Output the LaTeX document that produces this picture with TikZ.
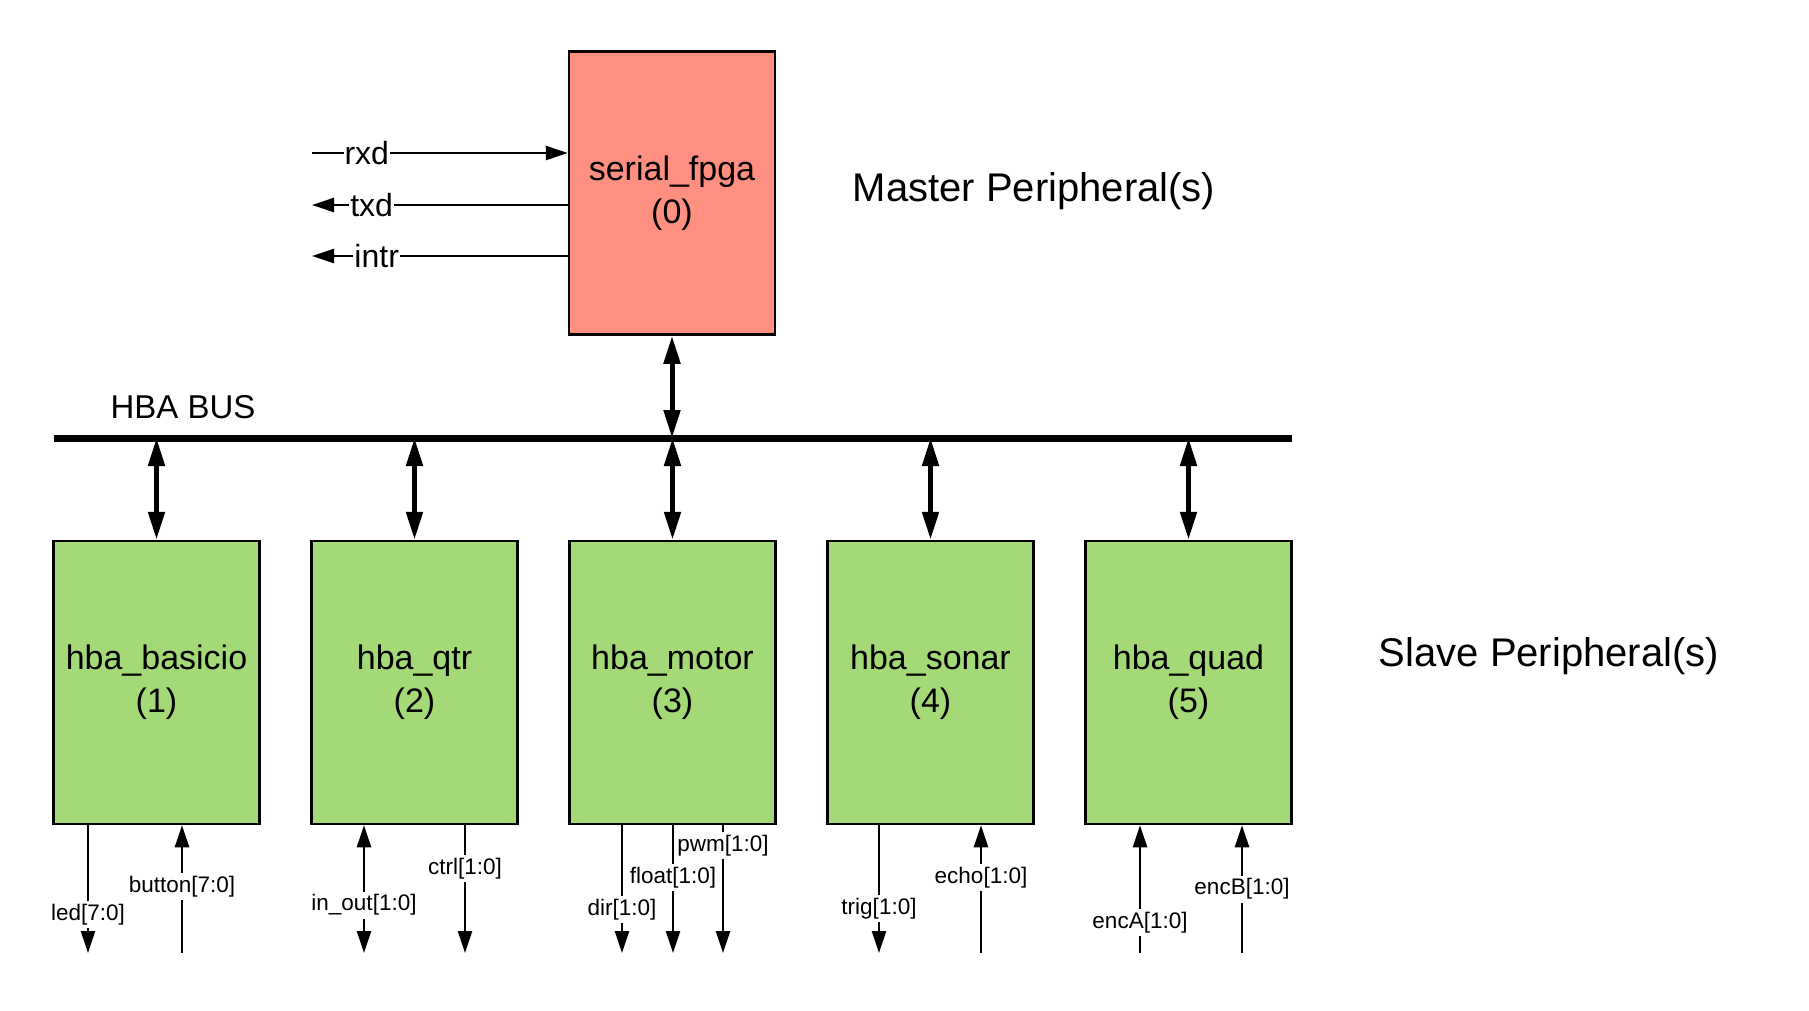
\documentclass[tikz,border=0pt]{standalone}
\usepackage{fontspec}
\setmainfont{Liberation Sans}
\usepackage{tikz}
\usetikzlibrary{arrows.meta}

\definecolor{masterred}{RGB}{255,143,128}
\definecolor{slavegreen}{RGB}{164,217,119}

\tikzset{
  periph/.style={draw, line width=2.5pt, minimum width=206pt, minimum height=283pt,
    align=center, font=\fontsize{34}{43}\selectfont},
  busarrow/.style={{Triangle[length=28pt,width=16pt]}-{Triangle[length=28pt,width=16pt]}, line width=5pt},
  sig/.style={line width=2.5pt},
  sigout/.style={sig, -{Triangle[length=22pt,width=14pt]}},
  sigin/.style={sig, {Triangle[length=22pt,width=14pt]}-},
  sigio/.style={sig, {Triangle[length=22pt,width=14pt]}-{Triangle[length=22pt,width=14pt]}},
  siglbl/.style={fill=white, inner xsep=1pt, inner ysep=3pt, font=\fontsize{22.5}{27}\selectfont},
  serlbl/.style={fill=white, inner xsep=1pt, inner ysep=3pt, font=\fontsize{32}{38}\selectfont},
  title/.style={font=\fontsize{40}{48}\selectfont},
}

\begin{document}
\begin{tikzpicture}[x=1pt, y=-1pt]
  \fill[white] (0,0) rectangle (1809,1010);

  \node[periph, fill=masterred] (fpga) at (672,193) {serial\_fpga\\(0)};
  \node[title] (master) at (1034,191) {Master Peripheral(s)};
  \node[title] (slave) at (1549,656) {Slave Peripheral(s)};

  \coordinate (rxdend) at (312,153);
  \coordinate (txdend) at (312,205);
  \coordinate (intrend) at (312,256);
  \draw[sigout] (rxdend) -- node[serlbl, pos=0.214] {rxd} (fpga.west |- rxdend);
  \draw[sigout] (fpga.west |- txdend) -- node[serlbl, pos=0.767] {txd} (txdend);
  \draw[sigout] (fpga.west |- intrend) -- node[serlbl, pos=0.747] {intr} (intrend);

  \coordinate (busL) at (54,438);
  \coordinate (busR) at (1292,438);
  \draw[line width=7pt] (busL) -- (busR);
  \node[font=\fontsize{33}{40}\selectfont] (hbabus) at (183,407) {HBA BUS};
  \draw[busarrow] (fpga.south) -- (fpga.south |- busL);

  \foreach \name/\lbl [count=\i from 0] in {basicio/hba\_basicio, qtr/hba\_qtr,
      motor/hba\_motor, sonar/hba\_sonar, quad/hba\_quad} {
    \pgfmathtruncatemacro{\num}{\i+1}
    \node[periph, fill=slavegreen] (\name) at ({156.5+258*\i},682.5) {\lbl\\(\num)};
    \draw[busarrow] (\name.north |- busL) -- (\name.north);
  }

  \coordinate (ledend) at (88,953);
  \coordinate (buttonend) at (182,953);
  \coordinate (inoutend) at (364,953);
  \coordinate (ctrlend) at (465,953);
  \coordinate (dirend) at (622,953);
  \coordinate (floatend) at (673,953);
  \coordinate (pwmend) at (723,953);
  \coordinate (trigend) at (879,953);
  \coordinate (echoend) at (981,953);
  \coordinate (encAend) at (1140,953);
  \coordinate (encBend) at (1242,953);

  \draw[sigout] (basicio.south -| ledend) -- node[siglbl, pos=0.70] {led[7:0]} (ledend);
  \draw[sigin] (basicio.south -| buttonend) -- node[siglbl, pos=0.48] {button[7:0]} (buttonend);
  \draw[sigio] (qtr.south -| inoutend) -- node[siglbl, pos=0.625] {in\_out[1:0]} (inoutend);
  \draw[sigout] (qtr.south -| ctrlend) -- node[siglbl, pos=0.34] {ctrl[1:0]} (ctrlend);
  \draw[sigout] (motor.south -| dirend) -- node[siglbl, pos=0.66] {dir[1:0]} (dirend);
  \draw[sigout] (motor.south -| floatend) -- node[siglbl, pos=0.41] {float[1:0]} (floatend);
  \draw[sigout] (motor.south -| pwmend) -- node[siglbl, pos=0.16] {pwm[1:0]} (pwmend);
  \draw[sigout] (sonar.south -| trigend) -- node[siglbl, pos=0.65] {trig[1:0]} (trigend);
  \draw[sigin] (sonar.south -| echoend) -- node[siglbl, pos=0.41] {echo[1:0]} (echoend);
  \draw[sigin] (quad.south -| encAend) -- node[siglbl, pos=0.76] {encA[1:0]} (encAend);
  \draw[sigin] (quad.south -| encBend) -- node[siglbl, pos=0.50] {encB[1:0]} (encBend);
\end{tikzpicture}
\end{document}
